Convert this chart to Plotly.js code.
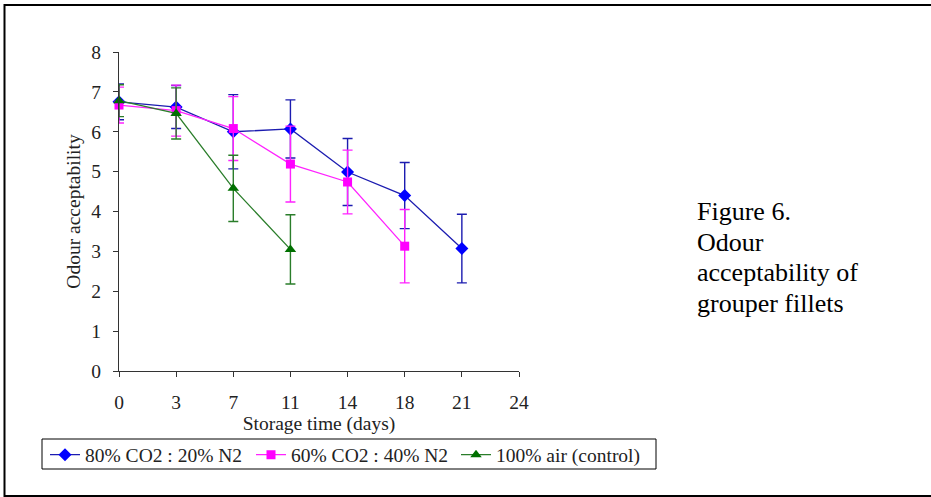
<!DOCTYPE html>
<html>
<head>
<meta charset="utf-8">
<script src="https://cdn.plot.ly/plotly-3.0.1.min.js"></script>
<style>
html,body{margin:0;padding:0;background:#fff;}
#chart{width:931px;height:497px;}
</style>
</head>
<body>
<div id="chart"></div>
<script>
// Storage time categories (days) shown on the x axis
const tickLabels = ['0', '3', '7', '11', '14', '18', '21', '24'];

// 80% CO2 : 20% N2
const daysA = [0, 3, 7, 11, 14, 18, 21];
const valsA = [6.75, 6.62, 6.0, 6.07, 4.99, 4.4, 3.07];
const errA  = [0.45, 0.54, 0.93, 0.73, 0.84, 0.83, 0.86];

// 60% CO2 : 40% N2
const daysB = [0, 3, 7, 11, 14, 18];
const valsB = [6.67, 6.53, 6.08, 5.19, 4.74, 3.13];
const errB  = [0.45, 0.64, 0.8, 0.95, 0.8, 0.92];

// 100% air (control)
const daysC = [0, 3, 7, 11];
const valsC = [6.78, 6.46, 4.58, 3.05];
const errC  = [0.4, 0.64, 0.83, 0.87];

const seriesNames = ['80% CO2 : 20% N2', '60% CO2 : 40% N2', '100% air (control)'];
const yTicks = [0, 1, 2, 3, 4, 5, 6, 7, 8];
const captionLines = ['Figure 6.', 'Odour', 'acceptability of', 'grouper fillets'];

const idx = d => d.map(v => tickLabels.indexOf(String(v)));
const FONT = '"Liberation Serif", serif';
const FS = 19.5;

function series(name, legendId, days, vals, errs, lineColor, markColor, symbol, size) {
  return {
    type: 'scatter', mode: 'lines+markers', name: name, legend: legendId,
    x: idx(days), y: vals,
    line: {color: lineColor, width: 1.3},
    marker: {color: markColor, symbol: symbol, size: size, line: {width: 0}},
    error_y: {type: 'data', array: errs, visible: true, color: lineColor, thickness: 1.4, width: 5},
    cliponaxis: false
  };
}

const data = [
  series(seriesNames[0], 'legend', daysA, valsA, errA, '#1c1cb0', '#0000ff', 'diamond', 10),
  series(seriesNames[1], 'legend2', daysB, valsB, errB, '#ff22ff', '#ff00ff', 'square', 9),
  series(seriesNames[2], 'legend3', daysC, valsC, errC, '#2a7d2a', '#007000', 'triangle-up', 10)
];

// pixel helpers for paper coords
const L = 119, R = 519, T = 52, B = 371;
const px = x => (x - L) / (R - L);
const py = y => (B - y) / (B - T);

function legendAt(xPix) {
  return {
    orientation: 'h', xref: 'container', yref: 'container',
    x: xPix / 931, y: 1 - 455 / 497, xanchor: 'left', yanchor: 'middle',
    borderwidth: 0, bgcolor: 'rgba(0,0,0,0)',
    font: {family: FONT, size: FS, color: '#222'},
    itemwidth: 30
  };
}

const layout = {
  width: 931, height: 497,
  margin: {l: L, r: 931 - R, t: T, b: 497 - B, pad: 0},
  paper_bgcolor: '#ffffff', plot_bgcolor: '#ffffff',
  font: {family: FONT, size: FS, color: '#222'},
  showlegend: true,
  legend: legendAt(45),
  legend2: legendAt(251),
  legend3: legendAt(456),
  xaxis: {
    range: [0, 7], tickmode: 'array', tickvals: tickLabels.map((t, i) => i), ticktext: tickLabels,
    showgrid: false, zeroline: false, showline: true, linecolor: '#333', linewidth: 1,
    ticks: 'outside', ticklen: 5, tickcolor: '#333', tickwidth: 1,
    tickfont: {family: FONT, size: FS, color: '#222'},
    ticklabelstandoff: 9,
    title: {text: 'Storage time (days)', font: {family: FONT, size: FS, color: '#222'}, standoff: 13}
  },
  yaxis: {
    range: [0, 8], tickmode: 'array', tickvals: yTicks, ticktext: yTicks.map(String),
    showgrid: false, zeroline: false, showline: true, linecolor: '#333', linewidth: 1,
    ticks: 'outside', ticklen: 5, tickcolor: '#333', tickwidth: 1,
    tickfont: {family: FONT, size: FS, color: '#222'},
    ticklabelstandoff: 8,
    title: {text: 'Odour acceptability', font: {family: FONT, size: FS, color: '#222'}, standoff: 5}
  },
  shapes: [
    {
      type: 'rect', xref: 'paper', yref: 'paper',
      x0: px(4.5), x1: px(940), y0: py(496), y1: py(5),
      line: {color: '#000', width: 2}, fillcolor: 'rgba(0,0,0,0)', layer: 'above'
    },
    {
      type: 'rect', xref: 'paper', yref: 'paper',
      x0: px(42), x1: px(656), y0: py(469), y1: py(439),
      line: {color: '#000', width: 1}, fillcolor: 'rgba(0,0,0,0)', layer: 'above'
    }
  ],
  annotations: captionLines.map((t, i) => ({
    xref: 'paper', yref: 'paper', x: px(695), y: py(212 + i * 30.4),
    xanchor: 'left', yanchor: 'middle', align: 'left', showarrow: false,
    text: t, font: {family: FONT, size: 26, color: '#000'}
  }))
};

Plotly.newPlot('chart', data, layout, {displayModeBar: false, staticPlot: true});
</script>
</body>
</html>
